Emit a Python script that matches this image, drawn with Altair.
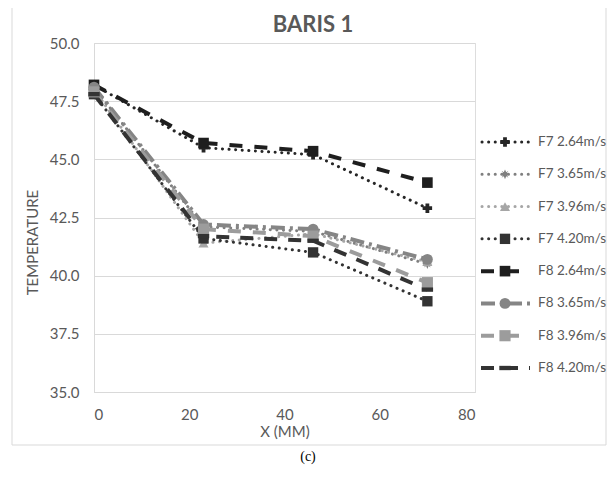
import altair as alt
import pandas as pd

# ---- data ----
x_mm = [0, 23, 46, 70]
series = ["F7 2.64m/s", "F7 3.65m/s", "F7 3.96m/s", "F7 4.20m/s",
          "F8 2.64m/s", "F8 3.65m/s", "F8 3.96m/s", "F8 4.20m/s"]
group = ["F7", "F7", "F7", "F7", "F8", "F8", "F8", "F8"]
f7_264 = [48.2, 45.5, 45.2, 42.9]
f7_365 = [48.1, 42.1, 41.9, 40.5]
f7_396 = [48.0, 41.4, 41.8, 40.6]
f7_420 = [47.8, 41.6, 41.0, 38.9]
f8_264 = [48.2, 45.7, 45.35, 44.0]
f8_365 = [48.1, 42.2, 42.0, 40.7]
f8_396 = [47.9, 42.0, 41.7, 39.7]
f8_420 = [47.8, 41.7, 41.5, 39.4]
all_values = [f7_264, f7_365, f7_396, f7_420, f8_264, f8_365, f8_396, f8_420]
y_ticks = [35.0, 37.5, 40.0, 42.5, 45.0, 47.5, 50.0]
x_ticks = [0, 20, 40, 60, 80]
chart_title = "BARIS 1"
caption_text = "(c)"

# ---- styles ----
colors = ["#262626", "#7f7f7f", "#a6a6a6", "#333333",
          "#1e1e1e", "#858585", "#9c9c9c", "#333333"]
dashes = [[0.1, 6.5], [0.1, 6.5], [0.1, 6.5], [0.1, 6.5],
          [13, 12], [14, 5, 3, 5], [13, 12], [13, 11]]
star = ("M0,-1L0.25,-0.4L0.7,-0.7L0.4,-0.25L1,0L0.4,0.25L0.7,0.7L0.25,0.4"
        "L0,1L-0.25,0.4L-0.7,0.7L-0.4,0.25L-1,0L-0.4,-0.25L-0.7,-0.7L-0.25,-0.4Z")
dash_shape = "M-1,-0.38L1,-0.38L1,0.38L-1,0.38Z"
shapes = ["cross", star, "triangle-up", "square",
          "square", "circle", "square", dash_shape]
sizes = [90, 130, 80, 85, 90, 90, 85, 110]

rows = []
for s, g, vals in zip(series, group, all_values):
    for x, v in zip(x_mm, vals):
        rows.append({"series": s, "group": g, "x": x, "temp": v})
df = pd.DataFrame(rows)
leg = pd.DataFrame({"series": series, "group": group})

FONT = "Lato"
GRAY = "#595959"

xs = alt.Scale(domain=[0, 80], nice=False)
ys = alt.Scale(domain=[35, 50], nice=False)
color = alt.Color("series:N", scale=alt.Scale(domain=series, range=colors), legend=None)
sdash = alt.StrokeDash("series:N", scale=alt.Scale(domain=series, range=dashes), legend=None)
shape = alt.Shape("series:N", scale=alt.Scale(domain=series, range=shapes), legend=None)
size = alt.Size("series:O", scale=alt.Scale(domain=series, range=sizes), legend=None)

y_axis = alt.Axis(values=y_ticks, format=".1f", labelFont=FONT, labelFontSize=15,
                  labelColor=GRAY, gridColor="#d9d9d9", domainColor="#d9d9d9",
                  ticks=False, tickSize=0, labelPadding=15,
                  title="TEMPERATURE", titleFont=FONT, titleFontSize=15,
                  titleFontWeight="normal", titleColor=GRAY, titleX=-62, titleY=199,
                  titleAngle=270, titleAlign="center", titleBaseline="middle")
x_axis = alt.Axis(values=x_ticks, labelFont=FONT, labelFontSize=15, labelColor=GRAY,
                  grid=False, domainColor="#d9d9d9", ticks=False, tickSize=0,
                  labelPadding=15, title="X (MM)", titleFont=FONT, titleFontSize=15,
                  titleFontWeight="normal", titleColor=GRAY, titlePadding=2)
X = alt.X("x:Q", scale=xs, axis=x_axis)

base = alt.Chart(df)

lines7 = base.transform_filter(alt.datum.group == "F7").mark_line(
    strokeWidth=3, strokeCap="round").encode(
    x=X, y=alt.Y("temp:Q", scale=ys, axis=y_axis),
    color=color, strokeDash=sdash, detail="series:N")

lines8 = base.transform_filter(alt.datum.group == "F8").mark_line(
    strokeWidth=4, strokeCap="butt").encode(
    x=X, y=alt.Y("temp:Q", scale=ys, axis=None),
    color=color, strokeDash=sdash, detail="series:N")

points = base.mark_point(filled=True, opacity=1).encode(
    x=X, y=alt.Y("temp:Q", scale=ys, axis=None),
    color=color, shape=shape, size=size)

# ---- legend (drawn with the library's scales) ----
ly = alt.Y("series:N", scale=alt.Scale(type="point", domain=series, range=[99, 325], padding=0),
           axis=None)
lbase = alt.Chart(leg)
leg7 = lbase.transform_filter(alt.datum.group == "F7").mark_rule(
    strokeWidth=3, strokeCap="round").encode(
    x=alt.value(388), x2=alt.value(436), y=ly, color=color, strokeDash=sdash)
leg8 = lbase.transform_filter(alt.datum.group == "F8").mark_rule(
    strokeWidth=4, strokeCap="butt").encode(
    x=alt.value(387), x2=alt.value(436), y=ly, color=color, strokeDash=sdash)
legpts = lbase.mark_point(filled=True, opacity=1).encode(
    x=alt.value(411), y=ly, color=color, shape=shape, size=size)
legtxt = lbase.mark_text(align="left", baseline="middle", font=FONT, fontSize=13.5,
                         color=GRAY).encode(x=alt.value(444), y=ly, text="series:N")

# ---- chart frame, title and caption ----
frame = alt.Chart(alt.Data(values=[{"k": 1}])).mark_rect(
    fillOpacity=0, stroke="#d9d9d9", strokeWidth=1).encode(
    x=alt.value(-82), x2=alt.value(512), y=alt.value(-36), y2=alt.value(402))
title = alt.Chart(alt.Data(values=[{"t": chart_title}])).mark_text(
    font=FONT, fontSize=22, fontWeight="bold", color=GRAY, baseline="middle",
    align="center").encode(x=alt.value(219), y=alt.value(-18), text="t:N")
caption = alt.Chart(alt.Data(values=[{"t": caption_text}])).mark_text(
    font="Liberation Serif", fontSize=14, color="black", baseline="middle",
    align="center").encode(x=alt.value(214), y=alt.value(414), text="t:N")

chart = alt.layer(frame, lines7, lines8, points, leg7, leg8, legpts, legtxt,
                  title, caption).resolve_scale(y="independent").properties(
    width=381, height=349,
    autosize=alt.AutoSizeParams(type="none"),
    padding={"left": 86, "top": 35, "right": 133, "bottom": 80},
).configure_view(stroke=None).configure(background="white")

chart.save("out.html", embed_options={"renderer": "svg", "actions": False})
